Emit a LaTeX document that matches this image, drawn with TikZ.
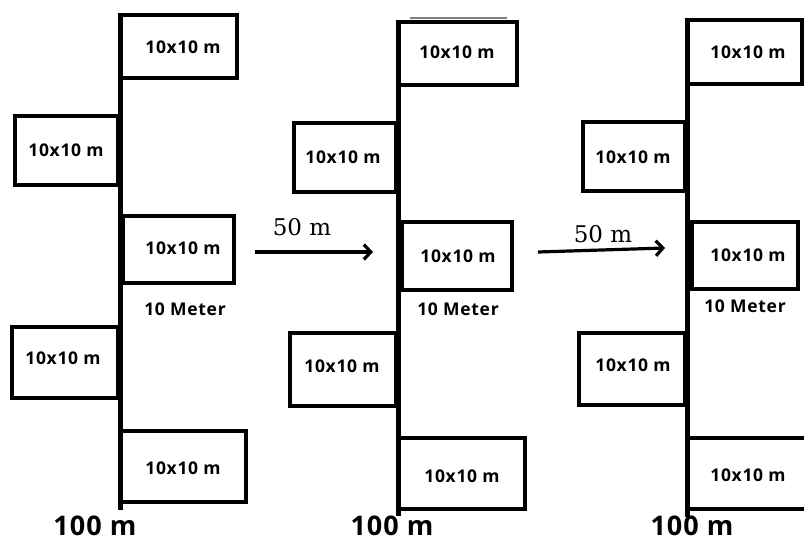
\documentclass[tikz,border=0pt]{standalone}
\usepackage{fontspec}
\newfontfamily\lblfont[LetterSpace=4]{Open Sans}
\newfontfamily\numfont{DejaVu Serif}
\usetikzlibrary{fit,arrows.meta}
\begin{document}
\begin{tikzpicture}[x=1pt,y=-1pt,
  box/.style={draw, line width=3.8pt, inner sep=0pt},
  post/.style={line width=5pt},
  lbl/.style={inner sep=0pt, font=\lblfont\bfseries\fontsize{17.5}{17.5}\selectfont},
  big/.style={inner sep=0pt, font=\lblfont\bfseries\fontsize{27}{27}\selectfont},
  dist/.style={inner sep=0pt, font=\numfont\fontsize{23}{23}\selectfont},
  move/.style={line width=3.2pt, -{Straight Barb[length=7pt,width=15pt,line width=3.2pt]}}]
\clip (0,0) rectangle (804,542);
% ---------- panel 1
\coordinate (t1) at (120,13);
\coordinate (e1) at (120,510);
\draw[post] (t1) -- (e1);
\node[box, fit={(120,15) (237,78)}] (p1a) {};
\node[box, fit={(15,116) (118,185)}] (p1b) {};
\node[box, fit={(123,216) (234,283)}] (p1c) {};
\node[box, fit={(12,327) (118,398)}] (p1d) {};
\node[box, fit={(120,431) (246,502)}] (p1e) {};
\node[lbl] (p1at) at (183,47) {10x10 m};
\node[lbl] (p1bt) at (66,150) {10x10 m};
\node[lbl] (p1ct) at (183,248) {10x10 m};
\node[lbl] (p1dt) at (63,358) {10x10 m};
\node[lbl] (p1et) at (183,468) {10x10 m};
\node[lbl] (m1) at (185,309) {10 Meter};
\node[big] (h1) at (95,526) {100 m};
% ---------- panel 2
\coordinate (t2) at (398,20);
\coordinate (e2) at (398,516);
\draw[post] (t2) -- (e2);
\node[box, fit={(398,22) (517,85)}] (p2a) {};
\coordinate (g1) at (410,17.5);
\coordinate (g2) at (507,17.5);
\draw[gray, line width=2pt] (g1) -- (g2);
\node[box, fit={(294,123) (396,192)}] (p2b) {};
\node[box, fit={(402,222) (512,290)}] (p2c) {};
\node[box, fit={(290,333) (396,406)}] (p2d) {};
\node[box, fit={(398,438) (525,509)}] (p2e) {};
\node[lbl] (p2at) at (457,52) {10x10 m};
\node[lbl] (p2bt) at (343,157) {10x10 m};
\node[lbl] (p2ct) at (458,256) {10x10 m};
\node[lbl] (p2dt) at (342,366) {10x10 m};
\node[lbl] (p2et) at (462,476) {10x10 m};
\node[lbl] (m2) at (458,309) {10 Meter};
\node[big] (h2) at (392,526) {100 m};
% ---------- panel 3
\coordinate (t3) at (687,19);
\coordinate (e3) at (687,517);
\draw[post] (t3) -- (e3);
\node[box, fit={(687,20) (802,84)}] (p3a) {};
\node[box, fit={(583,122) (685,191)}] (p3b) {};
\node[box, fit={(692,222) (798,289)}] (p3c) {};
\node[box, fit={(579,333) (685,405)}] (p3d) {};
\node[box, fit={(687,438) (812,509)}] (p3e) {};
\node[lbl] (p3at) at (748,52) {10x10 m};
\node[lbl] (p3bt) at (633,157) {10x10 m};
\node[lbl] (p3ct) at (748,255) {10x10 m};
\node[lbl] (p3dt) at (633,365) {10x10 m};
\node[lbl] (p3et) at (748,475) {10x10 m};
\node[lbl] (m3) at (745,306) {10 Meter};
\node[big] (h3) at (692,526) {100 m};
% ---------- arrows
\coordinate (a1s) at (255,252);
\coordinate (a1e) at (373,252);
\draw[move] (a1s) -- (a1e);
\node[dist] (d1) at (302,227) {50 m};
\coordinate (a2s) at (538,252);
\coordinate (a2e) at (665,248);
\draw[move] (a2s) -- (a2e);
\node[dist] (d2) at (603,234) {50 m};
\end{tikzpicture}
\end{document}
